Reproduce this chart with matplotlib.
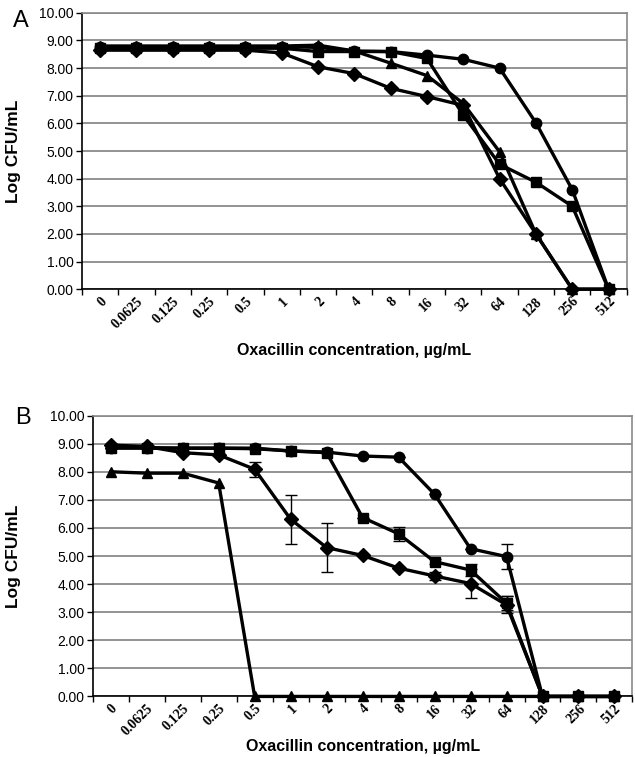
import matplotlib.pyplot as plt
import matplotlib.transforms as mtransforms
import numpy as np

plt.rcParams["font.family"] = ["Liberation Sans", "DejaVu Sans"]

conc_labels = ["0", "0.0625", "0.125", "0.25", "0.5", "1", "2", "4", "8",
               "16", "32", "64", "128", "256", "512"]

# --- panel A ---
a_diamond = [8.65, 8.65, 8.65, 8.65, 8.65, 8.55, 8.05, 7.8, 7.27, 6.97, 6.65, 4.0, 2.0, 0.0, 0.0]
a_square = [8.72, 8.72, 8.72, 8.72, 8.72, 8.72, 8.6, 8.6, 8.6, 8.35, 6.3, 4.52, 3.87, 3.0, 0.0]
a_triangle = [8.8, 8.8, 8.8, 8.8, 8.8, 8.8, 8.83, 8.62, 8.18, 7.73, 6.72, 4.97, 2.0, 0.0, 0.0]
a_circle = [8.78, 8.78, 8.78, 8.78, 8.78, 8.78, 8.75, 8.62, 8.6, 8.47, 8.32, 8.0, 6.02, 3.6, 0.0]

# --- panel B ---
b_diamond = [8.95, 8.9, 8.68, 8.6, 8.09, 6.31, 5.3, 5.02, 4.57, 4.29, 4.02, 3.26, 0.0, 0.0, 0.0]
b_diamond_err = [0, 0, 0, 0, 0.27, 0.87, 0.86, 0, 0, 0.15, 0.5, 0.3, 0, 0, 0]
b_square = [8.84, 8.84, 8.84, 8.84, 8.82, 8.74, 8.68, 6.37, 5.79, 4.8, 4.5, 3.32, 0.0, 0.0, 0.0]
b_square_err = [0, 0, 0, 0, 0, 0, 0, 0, 0.26, 0.1, 0.22, 0.25, 0, 0, 0]
b_circle = [8.86, 8.86, 8.84, 8.84, 8.84, 8.74, 8.7, 8.56, 8.52, 7.2, 5.26, 4.98, 0.0, 0.0, 0.0]
b_circle_err = [0, 0, 0, 0, 0, 0, 0, 0, 0, 0, 0, 0.46, 0, 0, 0]
b_triangle = [8.0, 7.95, 7.95, 7.6, 0.0, 0.0, 0.0, 0.0, 0.0, 0.0, 0.0, 0.0, 0.0, 0.0, 0.0]

x = np.arange(len(conc_labels))

fig = plt.figure(figsize=(6.35, 7.57), dpi=100)
ax_a = fig.add_axes([0.129, 0.618, 0.858, 0.365])
ax_b = fig.add_axes([0.146, 0.080, 0.850, 0.371])

line_kw = dict(color="black", linewidth=2.4, markersize=7.5, clip_on=False, zorder=3)


def style_axes(ax, letter, letter_xy, ylabel_x, xlabel_pad):
    ax.set_xlim(-0.5, len(conc_labels) - 0.5)
    ax.set_ylim(0, 10)
    ax.set_yticks(np.arange(0, 11, 1))
    ax.set_yticklabels([f"{v:.2f}" for v in range(11)], fontsize=10)
    ax.yaxis.grid(True, color="#8a8a8a", linewidth=1.3, zorder=0)
    ax.set_axisbelow(True)

    ax.set_xticks(x)
    ax.set_xticklabels(conc_labels, rotation=45, ha="right", va="top",
                       rotation_mode="anchor", fontsize=10,
                       family="Liberation Serif", fontweight="bold")
    # Excel-style: labels sit a little left of the category centre
    shift = mtransforms.ScaledTranslation(-10 / 100, 0, fig.dpi_scale_trans)
    for lab in ax.get_xticklabels():
        lab.set_transform(lab.get_transform() + shift)
    ax.set_xticks(np.arange(-0.5, len(conc_labels), 1), minor=True)
    ax.tick_params(axis="x", which="major", length=0, pad=4)
    ax.tick_params(axis="x", which="minor", length=4, width=1, direction="out")
    ax.tick_params(axis="y", length=4, width=1, direction="out", pad=2)

    for side in ("top", "right"):
        ax.spines[side].set_color("#8a8a8a")
        ax.spines[side].set_linewidth(1.2)
    for side in ("left", "bottom"):
        ax.spines[side].set_color("black")
        ax.spines[side].set_linewidth(1.2)

    ax.set_ylabel("Log CFU/mL", fontsize=12.5, fontweight="bold")
    ax.yaxis.set_label_coords(ylabel_x, 0.5)
    ax.set_xlabel("Oxacillin concentration, \u00b5g/mL", fontsize=11.5,
                  fontweight="bold", labelpad=xlabel_pad)
    ax.text(letter_xy[0], letter_xy[1], letter, transform=ax.transAxes,
            fontsize=17, ha="left", va="center")


# --- Panel A ---
ax_a.plot(x, a_diamond, marker="D", **line_kw)
ax_a.plot(x, a_square, marker="s", **line_kw)
ax_a.plot(x, a_triangle, marker="^", **line_kw)
ax_a.plot(x, a_circle, marker="o", **line_kw)
style_axes(ax_a, "A", (-0.127, 0.972), -0.112, 9)

# --- Panel B ---
err_kw = dict(ecolor="black", elinewidth=1.0, capsize=4, capthick=1.0)
ax_b.errorbar(x, b_diamond, yerr=b_diamond_err, marker="D", **err_kw, **line_kw)
ax_b.errorbar(x, b_square, yerr=b_square_err, marker="s", **err_kw, **line_kw)
ax_b.errorbar(x, b_circle, yerr=b_circle_err, marker="o", **err_kw, **line_kw)
ax_b.plot(x, b_triangle, marker="^", **line_kw)
style_axes(ax_b, "B", (-0.144, 0.993), -0.133, 1)

fig.savefig("out.png", dpi=100)
plt.close(fig)
